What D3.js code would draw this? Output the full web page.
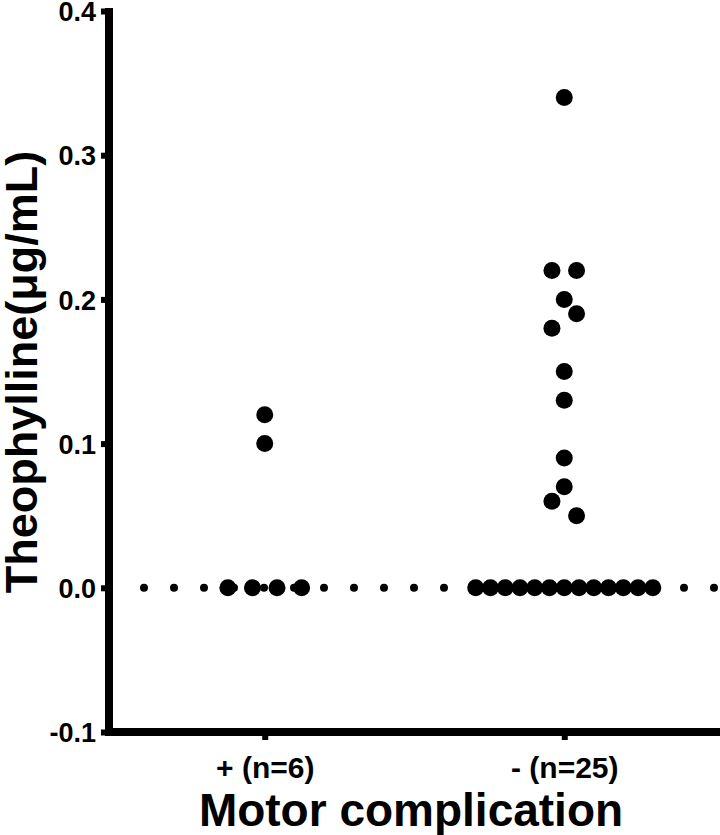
<!DOCTYPE html>
<html>
<head>
<meta charset="utf-8">
<script src="https://cdn.jsdelivr.net/npm/d3@7"></script>
<style>
  html, body { margin: 0; padding: 0; background: #fff; }
  svg { display: block; }
  text { font-family: "Liberation Sans", Arial, sans-serif; font-weight: bold; fill: #000; }
</style>
</head>
<body>
<svg id="chart" width="720" height="835"></svg>
<script>
// ---- data ----
const categories = ["+ (n=6)", "- (n=25)"];
const plusValues = [0.12, 0.10, 0, 0, 0, 0];
const plusSlots  = [0, 0, -3, -1, 1, 3];
const minusValues = [0.34, 0.22, 0.22, 0.20, 0.19, 0.18, 0.15, 0.13, 0.09, 0.07, 0.06, 0.05,
                     0, 0, 0, 0, 0, 0, 0, 0, 0, 0, 0, 0, 0];
const minusSlots  = [0, -1, 1, 0, 1, -1, 0, 0, 0, 0, -1, 1,
                     -7.2, -6, -4.8, -3.6, -2.4, -1.2, 0, 1.2, 2.4, 3.6, 4.8, 6, 7.2];
const yTicks = [-0.1, 0.0, 0.1, 0.2, 0.3, 0.4];
const yTickLabels = ["-0.1", "0.0", "0.1", "0.2", "0.3", "0.4"];
const referenceValue = 0;

// ---- layout ----
const svg = d3.select("#chart");
const axisX = 109, axisY = 732, topY = 11, rightX = 720;
const slotUnit = 12.3;
const pointR = 8.5;

const x = d3.scalePoint().domain(categories).range([axisX, rightX]).padding(0.52);
const y = d3.scaleLinear().domain([-0.1, 0.4]).range([axisY, topY]);

// dotted reference line at 0
svg.append("line")
  .attr("x1", 144).attr("x2", rightX)
  .attr("y1", y(referenceValue)).attr("y2", y(referenceValue))
  .attr("stroke", "#000").attr("stroke-width", 8)
  .attr("stroke-linecap", "round")
  .attr("stroke-dasharray", "0,30");

// points
const pts = [];
plusValues.forEach((v, i) => pts.push({cat: categories[0], v, s: plusSlots[i]}));
minusValues.forEach((v, i) => pts.push({cat: categories[1], v, s: minusSlots[i]}));
svg.append("g").selectAll("circle").data(pts).join("circle")
  .attr("cx", d => x(d.cat) + d.s * slotUnit)
  .attr("cy", d => y(d.v))
  .attr("r", pointR)
  .attr("fill", "#000");

// y axis
const yAxis = d3.axisLeft(y).tickValues(yTicks)
  .tickFormat((d, i) => yTickLabels[i]).tickSize(8).tickSizeOuter(0).tickPadding(5);
const gy = svg.append("g").attr("transform", `translate(${axisX},0)`).call(yAxis);
gy.select(".domain").remove();
gy.selectAll(".tick line").attr("stroke", "#000").attr("stroke-width", 6);
gy.selectAll(".tick text").style("font-size", "27px").attr("dy", "0.36em");
svg.append("line").attr("x1", axisX).attr("x2", axisX)
  .attr("y1", topY - 3).attr("y2", axisY + 4)
  .attr("stroke", "#000").attr("stroke-width", 8);

// x axis
const xAxis = d3.axisBottom(x).tickSize(8).tickSizeOuter(0).tickPadding(17);
const gx = svg.append("g").attr("transform", `translate(0,${axisY})`).call(xAxis);
gx.select(".domain").remove();
gx.selectAll(".tick line").attr("stroke", "#000").attr("stroke-width", 6);
gx.selectAll(".tick text").style("font-size", "30px");
svg.append("line").attr("x1", axisX - 4).attr("x2", rightX)
  .attr("y1", axisY).attr("y2", axisY)
  .attr("stroke", "#000").attr("stroke-width", 8);

// axis titles
svg.append("text")
  .attr("x", 411).attr("y", 826)
  .attr("text-anchor", "middle")
  .style("font-size", "46px")
  .text("Motor complication");

svg.append("text")
  .attr("transform", `translate(37,372) rotate(-90)`)
  .attr("text-anchor", "middle")
  .style("font-size", "45px")
  .text("Theophylline(μg/mL)");
</script>
</body>
</html>
